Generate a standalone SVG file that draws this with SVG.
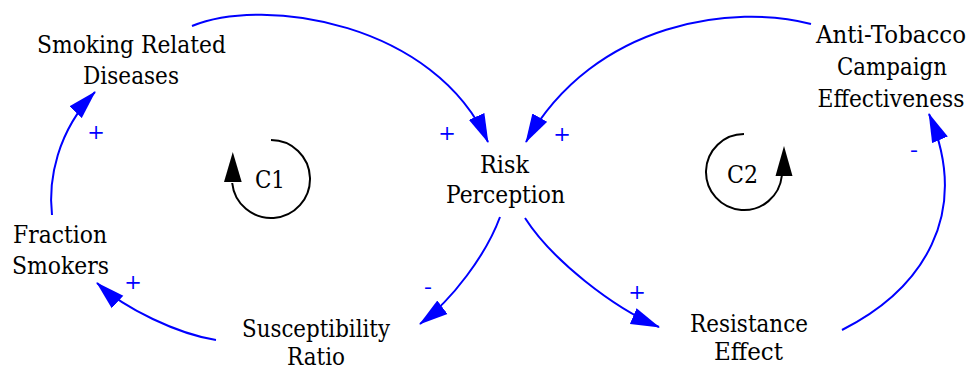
<svg xmlns="http://www.w3.org/2000/svg" width="974" height="370" viewBox="0 0 974 370">
<style>
text{font-family:"DejaVu Serif",serif}
.lbl{font-size:25px;fill:#000;text-anchor:middle}
.pol{font-size:21px;fill:#0000ff;text-anchor:middle}
.link{fill:none;stroke:#0000ff;stroke-width:2}
.loop{fill:none;stroke:#000;stroke-width:2}
.lh{fill:#000}
</style>
<defs>
<marker id="ah" markerUnits="userSpaceOnUse" markerWidth="29" markerHeight="18" viewBox="0 0 29 18" refX="28" refY="9" orient="auto">
<path d="M0,0.5 L29,9 L0,17.5 z" fill="#0000ff"/>
</marker>
</defs>
<rect width="974" height="370" fill="#fff"/>
<g id="connectors">
<path class="link" marker-end="url(#ah)" d="M192,26 C265,-4 435,23 488,142"/>
<path class="link" marker-end="url(#ah)" d="M811,24 C736,4 595,20 526,142"/>
<path class="link" marker-end="url(#ah)" d="M500,217 C486,255 452,300 420,324"/>
<path class="link" marker-end="url(#ah)" d="M525,218 C552,260 613,307.5 659,327"/>
<path class="link" marker-end="url(#ah)" d="M842,330 C922,289.5 972,215 929,114"/>
<path class="link" marker-end="url(#ah)" d="M52,215 C48,180 57,131.6 95,92"/>
<path class="link" marker-end="url(#ah)" d="M216,340 C178,334 125,309 97,283"/>
<text class="pol" x="447" y="139.5">+</text>
<text class="pol" x="562" y="140.5">+</text>
<text class="pol" x="428" y="293.5" textLength="8" lengthAdjust="spacingAndGlyphs">-</text>
<text class="pol" x="637" y="298.5">+</text>
<text class="pol" x="914" y="156.5" textLength="8" lengthAdjust="spacingAndGlyphs">-</text>
<text class="pol" x="96" y="138.5">+</text>
<text class="pol" x="133" y="288.5">+</text>
</g>
<g id="node-smoking-related-diseases">
<text class="lbl" x="131.5" y="53" textLength="189" lengthAdjust="spacingAndGlyphs">Smoking Related</text>
<text class="lbl" x="131" y="84" textLength="96" lengthAdjust="spacingAndGlyphs">Diseases</text>
</g>
<g id="node-anti-tobacco">
<text class="lbl" x="891" y="43" textLength="150" lengthAdjust="spacingAndGlyphs">Anti-Tobacco</text>
<text class="lbl" x="892" y="75" textLength="110" lengthAdjust="spacingAndGlyphs">Campaign</text>
<text class="lbl" x="891" y="107" textLength="147" lengthAdjust="spacingAndGlyphs">Effectiveness</text>
</g>
<g id="node-risk-perception">
<text class="lbl" x="504.5" y="173" textLength="49" lengthAdjust="spacingAndGlyphs">Risk</text>
<text class="lbl" x="505.5" y="203" textLength="119" lengthAdjust="spacingAndGlyphs">Perception</text>
</g>
<g id="node-fraction-smokers">
<text class="lbl" x="60" y="243" textLength="94" lengthAdjust="spacingAndGlyphs">Fraction</text>
<text class="lbl" x="60.5" y="274" textLength="97" lengthAdjust="spacingAndGlyphs">Smokers</text>
</g>
<g id="node-susceptibility-ratio">
<text class="lbl" x="316" y="337" textLength="148" lengthAdjust="spacingAndGlyphs">Susceptibility</text>
<text class="lbl" x="316" y="365" textLength="58" lengthAdjust="spacingAndGlyphs">Ratio</text>
</g>
<g id="node-resistance-effect">
<text class="lbl" x="749" y="332" textLength="118" lengthAdjust="spacingAndGlyphs">Resistance</text>
<text class="lbl" x="748.5" y="360" textLength="69" lengthAdjust="spacingAndGlyphs">Effect</text>
</g>
<g id="loop-c1">
<path class="loop" d="M271,140 A39,39 0 1,1 232.2,183"/>
<polygon class="lh" points="232.8,152 224,182 241.7,182"/>
<text class="lbl" x="270" y="188" textLength="30" lengthAdjust="spacingAndGlyphs">C1</text>
</g>
<g id="loop-c2">
<path class="loop" d="M744,134 A38,38 0 1,0 781.8,176"/>
<polygon class="lh" points="784,146 775.5,176 792.5,176"/>
<text class="lbl" x="742.5" y="183" textLength="31" lengthAdjust="spacingAndGlyphs">C2</text>
</g>
</svg>
